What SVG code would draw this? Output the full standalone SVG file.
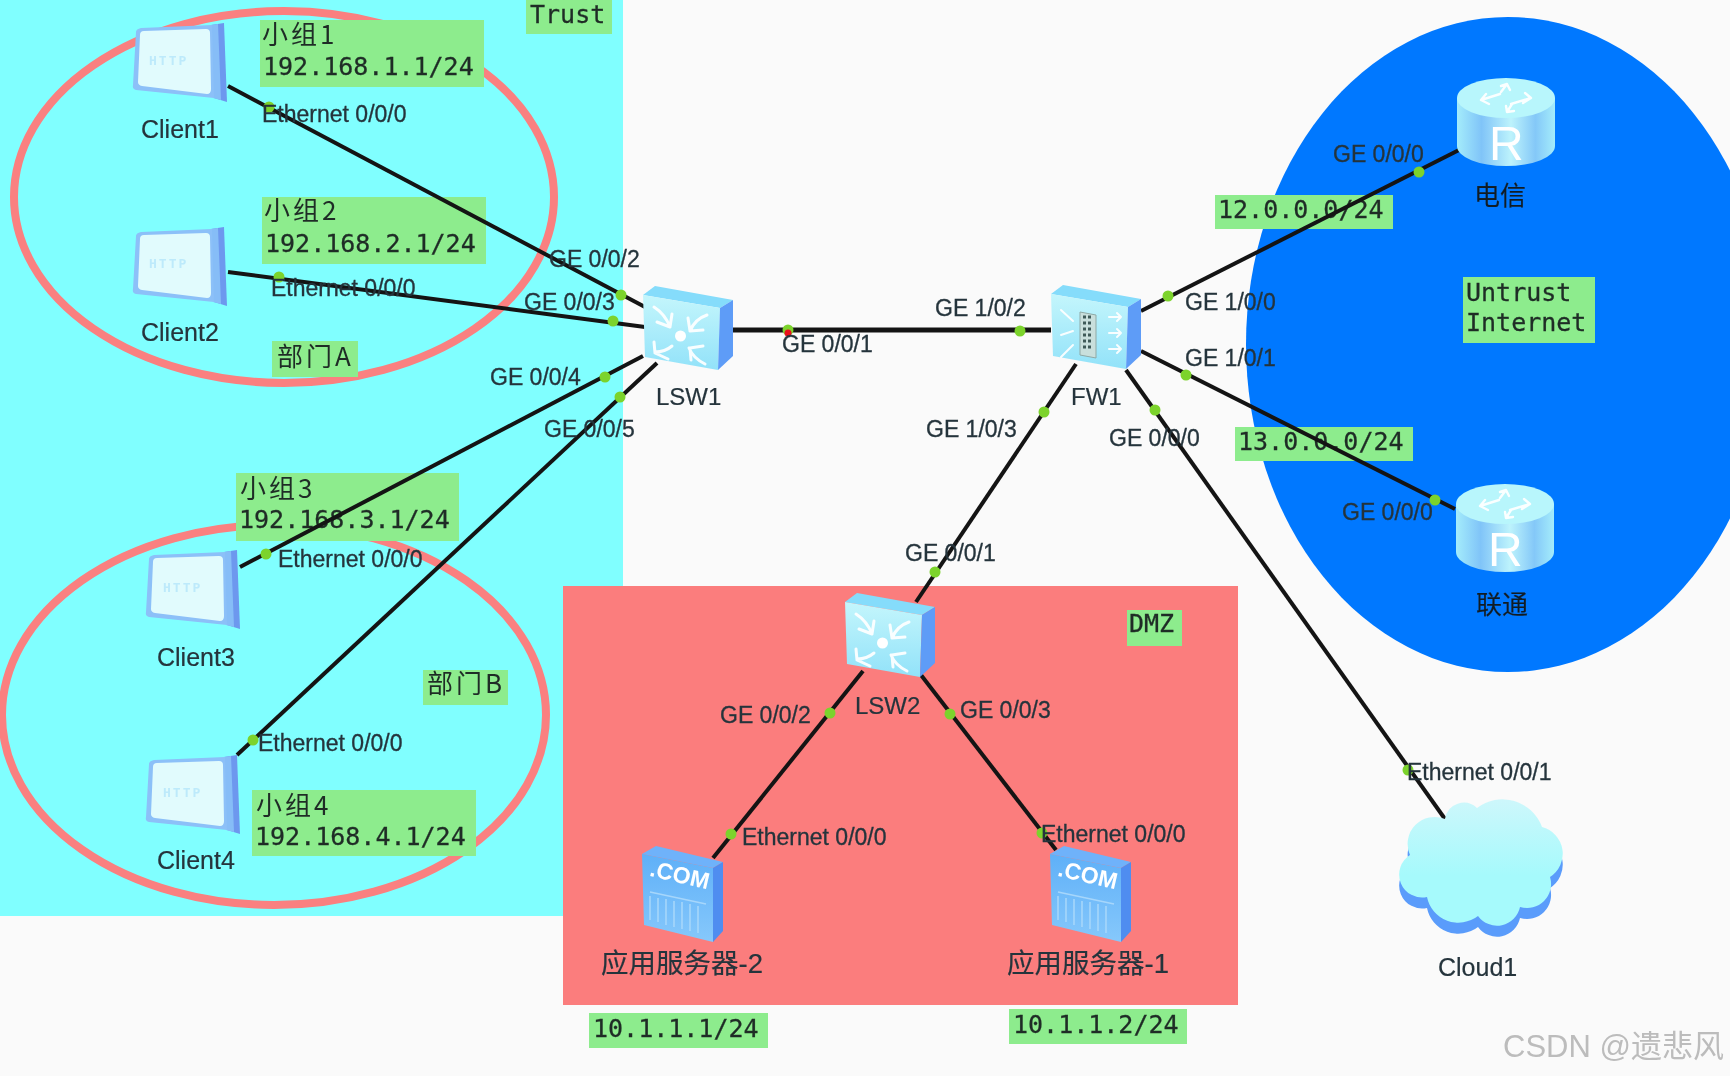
<svg xmlns="http://www.w3.org/2000/svg" width="1730" height="1076" viewBox="0 0 1730 1076">
<style>
.note{fill:#8dec8d}
.mono{font-family:"DejaVu Sans Mono","Noto Sans CJK SC",monospace;font-size:25px;fill:#1f2c26;stroke:#1f2c26;stroke-width:.3}
.cjk{font-family:"Noto Sans CJK SC","DejaVu Sans Mono",sans-serif;font-size:26px;letter-spacing:3px;fill:#1f2c26}
.port{font-family:"Liberation Sans",Arial,sans-serif;font-size:23px;fill:#25343c;stroke:#25343c;stroke-width:.3}
.name{font-family:"Liberation Sans","Noto Sans CJK SC",Arial,sans-serif;font-size:25px;fill:#25343c;stroke:#25343c;stroke-width:.2}
.ring{fill:none;stroke:#fa8080;stroke-width:8}
.link{stroke:#141414;stroke-width:4;fill:none}
.dot{fill:#7cd32c}
.arrow{fill:none;stroke:#fff;stroke-width:3;stroke-linecap:round;stroke-linejoin:round;opacity:.92}
.http{font-family:"DejaVu Sans Mono",monospace;font-weight:700;font-size:13px;letter-spacing:2px;fill:#bdeafb}
</style>
<defs>
<filter id="soft" filterUnits="userSpaceOnUse" x="0" y="0" width="1730" height="1076" color-interpolation-filters="sRGB"><feGaussianBlur stdDeviation="0.7"/></filter>
<linearGradient id="faceG" x1="0" y1="0" x2="0" y2="1"><stop offset="0" stop-color="#c4f6fc"/><stop offset="1" stop-color="#92e2f9"/></linearGradient>
<linearGradient id="rBody" x1="0" y1="0" x2="1" y2="0"><stop offset="0" stop-color="#a4ecfb"/><stop offset=".25" stop-color="#80c4f8"/><stop offset=".55" stop-color="#bdf3fc"/><stop offset=".8" stop-color="#84c8f8"/><stop offset="1" stop-color="#a4ecfb"/></linearGradient>
<linearGradient id="srvG" x1="0" y1="0" x2="0" y2="1"><stop offset="0" stop-color="#5fb0f8"/><stop offset="1" stop-color="#86c8fb"/></linearGradient>
<linearGradient id="cloudG" x1="0" y1="0" x2="0" y2="1"><stop offset="0" stop-color="#cdf7fb"/><stop offset=".6" stop-color="#a6fafc"/></linearGradient>
<g id="clientIcon">
<path d="M78 2L91 0L94 79L81 75Z" fill="#6d98ee"/>
<path d="M78 2L85 1L88 77L80 75Z" fill="#86bdf7"/>
<path d="M8 5L79 2L81 75L3 67Q-1 66 0 62L3 9Q3 6 8 5Z" fill="#8cc0f8"/>
<path d="M11 8L73 6Q77 6 77 10L78 66Q78 71 74 71L9 63Q5 62 5 59L7 12Q7 8 11 8Z" fill="#e1fbfd"/>
</g>
<g id="switchBox">
<path d="M12 0L90 14L77 22L0 9Z" fill="#85dcfb"/>
<path d="M0 9L77 22L75 84L2 71Z" fill="url(#faceG)"/>
<path d="M77 22L90 14L90 70L75 84Z" fill="#5e9cf7"/>
</g>
<g id="switchArrows">
<circle cx="37.5" cy="50" r="5.5" fill="#fff"/>
<path class="arrow" d="M11 21Q22 28 27 41M29 28L27 41L14 36"/>
<path class="arrow" d="M64 29Q52 33 47 45M45 32L47 45L60 44"/>
<path class="arrow" d="M29 60Q22 66 12 66M11 56L12 67L25 73"/>
<path class="arrow" d="M46 62Q50 72 62 78M48 74L47 62L60 60"/>
</g>
<g id="routerIcon">
<path d="M0 20V68A49 20 0 0 0 98 68V20Z" fill="url(#rBody)"/>
<ellipse cx="49" cy="20" rx="49" ry="20" fill="#b8f6fc"/>
<path class="arrow" style="stroke-width:2.4" d="M24 22L43 16M29 16L24 22L32 26M54 26L74 20M68 15L74 20L66 25M50 6L44 14M44 8L50 6L53 12M50 34L55 26M49 28L50 34L57 33"/>
</g>
<g id="serverIcon">
<path d="M14 0L81 16L71 22L0 8Z" fill="#6fb2fa"/>
<path d="M0 8L71 22L71 96L2 79Z" fill="url(#srvG)"/>
<path d="M71 22L81 16L81 85L71 96Z" fill="#4f8df0"/>
<path d="M8 46L64 58M8 50V74M16 52V76M24 53V79M32 55V81M40 56V83M48 58V85M56 60V87" stroke="#a6d6fb" stroke-width="1.6" fill="none"/>
</g>
</defs>
<rect width="1730" height="1076" fill="#fafafa"/>
<g filter="url(#soft)">
<g id="zones">
<rect x="0" y="0" width="623" height="916" fill="#80ffff"/>
<ellipse cx="1508" cy="344.5" rx="262" ry="327.5" fill="#0078ff"/>
<rect x="563" y="586" width="675" height="419" fill="#fb7d7d"/>
<ellipse class="ring" cx="284" cy="197" rx="270" ry="186"/>
<ellipse class="ring" cx="274" cy="715" rx="272" ry="190"/>
</g>
<g id="notes">
<rect class="note" x="526" y="0" width="86" height="34"/><text class="mono" x="530" y="23">Trust</text>
<rect class="note" x="260" y="20" width="224" height="67"/><text class="cjk" x="262" y="44">小组1</text><text class="mono" x="263" y="75">192.168.1.1/24</text>
<rect class="note" x="262" y="197" width="224" height="67"/><text class="cjk" x="264" y="220">小组2</text><text class="mono" x="265" y="252">192.168.2.1/24</text>
<rect class="note" x="272" y="341" width="86" height="36"/><text class="cjk" x="277" y="366">部门A</text>
<rect class="note" x="236" y="473" width="223" height="68"/><text class="cjk" x="240" y="498">小组3</text><text class="mono" x="239" y="528">192.168.3.1/24</text>
<rect class="note" x="423" y="670" width="85" height="35"/><text class="cjk" x="427" y="693">部门B</text>
<rect class="note" x="252" y="790" width="224" height="66"/><text class="cjk" x="256" y="815">小组4</text><text class="mono" x="255" y="845">192.168.4.1/24</text>
<rect class="note" x="1215" y="195" width="178" height="34"/><text class="mono" x="1218" y="218">12.0.0.0/24</text>
<rect class="note" x="1235" y="427" width="178" height="34"/><text class="mono" x="1238" y="450">13.0.0.0/24</text>
<rect class="note" x="1463" y="277" width="132" height="66"/><text class="mono" x="1466" y="301">Untrust</text><text class="mono" x="1466" y="331">Internet</text>
<rect class="note" x="1127" y="610" width="55" height="36"/><text class="mono" x="1129" y="632">DMZ</text>
<rect class="note" x="589" y="1013" width="179" height="35"/><text class="mono" x="593" y="1037">10.1.1.1/24</text>
<rect class="note" x="1009" y="1009" width="178" height="35"/><text class="mono" x="1013" y="1033">10.1.1.2/24</text>
</g>
<g id="connectors">
<path class="link" d="M228 86L645 307"/>
<path class="link" d="M228 272L645 327"/>
<path class="link" d="M240 567L643 356"/>
<path class="link" d="M237 755L657 363"/>
<path class="link" d="M733 330H1051" style="stroke-width:5"/>
<path class="link" d="M1141 311L1459 150"/>
<path class="link" d="M1141 351L1455 509"/>
<path class="link" d="M1076 364L916 602"/>
<path class="link" d="M1126 370L1445 819"/>
<path class="link" d="M863 671L713 858"/>
<path class="link" d="M921 675L1056 850"/>
<g id="ports">
<circle class="dot" cx="269" cy="107" r="5.5"/><circle class="dot" cx="279" cy="277" r="5.5"/>
<circle class="dot" cx="621" cy="295" r="5.5"/><circle class="dot" cx="613" cy="321" r="5.5"/>
<circle class="dot" cx="605" cy="377" r="5.5"/><circle class="dot" cx="620" cy="397" r="5.5"/>
<circle class="dot" cx="788" cy="330" r="5.5"/><circle cx="788" cy="333" r="3.5" fill="#e8101c"/>
<circle class="dot" cx="1020" cy="331" r="5.5"/><circle class="dot" cx="1168" cy="296" r="5.5"/>
<circle class="dot" cx="1186" cy="375" r="5.5"/><circle class="dot" cx="1155" cy="410" r="5.5"/>
<circle class="dot" cx="1419" cy="172" r="5.5"/><circle class="dot" cx="1435" cy="500" r="5.5"/>
<circle class="dot" cx="1044" cy="412" r="5.5"/><circle class="dot" cx="935" cy="572" r="5.5"/>
<circle class="dot" cx="266" cy="554" r="5.5"/><circle class="dot" cx="253" cy="740" r="5.5"/>
<circle class="dot" cx="830" cy="713" r="5.5"/><circle class="dot" cx="950" cy="714" r="5.5"/>
<circle class="dot" cx="731" cy="834" r="5.5"/><circle class="dot" cx="1042" cy="833" r="5.5"/>
<circle class="dot" cx="1408" cy="770" r="5.5"/>
</g>
</g>
<g id="Client1"><use href="#clientIcon" x="133" y="23"/><text class="http" x="149" y="65">HTTP</text><text class="name" x="141" y="138">Client1</text></g>
<g id="Client2"><use href="#clientIcon" x="133" y="227"/><text class="http" x="149" y="268">HTTP</text><text class="name" x="141" y="341">Client2</text></g>
<g id="Client3"><use href="#clientIcon" x="146" y="550"/><text class="http" x="163" y="592">HTTP</text><text class="name" x="157" y="666">Client3</text></g>
<g id="Client4"><use href="#clientIcon" x="146" y="755"/><text class="http" x="163" y="797">HTTP</text><text class="name" x="157" y="869">Client4</text></g>
<g id="LSW1"><use href="#switchBox" x="643" y="286"/><use href="#switchArrows" x="643" y="286"/><text class="name" style="font-size:24px" x="656" y="405">LSW1</text></g>
<g id="LSW2"><use href="#switchBox" x="845" y="593"/><use href="#switchArrows" x="845" y="593"/><text class="name" style="font-size:24px" x="855" y="714">LSW2</text></g>
<g id="FW1"><use href="#switchBox" x="1051" y="285"/>
<path class="arrow" d="M58 32H70M66 28L70 32L66 36M58 48H70M66 44L70 48L66 52M58 64H70M66 60L70 64L66 68M10 25L22 36M10 50L22 46M10 72L22 60" transform="translate(1051 285)" style="stroke-width:2"/>
<path d="M1080 312L1096 315V358L1080 355Z" fill="#c9dfdc" stroke="#8fa9a6"/>
<path d="M1083 317H1093M1083 323H1093M1083 329H1093M1083 335H1093M1083 341H1093M1083 347H1093" stroke="#3f5a58" stroke-width="3" stroke-dasharray="3 2"/>
<text class="name" style="font-size:24px" x="1071" y="405">FW1</text></g>
<g id="telecom"><use href="#routerIcon" x="1457" y="78"/><text x="1489" y="160" style="font-family:'Liberation Sans',sans-serif;font-size:48px;fill:#fff">R</text><text class="name" style="font-size:26px;fill:#0f1c26" x="1474" y="205">电信</text></g>
<g id="unicom"><use href="#routerIcon" x="1456" y="484"/><text x="1488" y="566" style="font-family:'Liberation Sans',sans-serif;font-size:48px;fill:#fff">R</text><text class="name" style="font-size:26px;fill:#0f1c26" x="1476" y="614">联通</text></g>
<g id="server2"><use href="#serverIcon" x="642" y="846"/><text x="649" y="882" transform="rotate(13 676 878)" style="font-family:'Liberation Sans',sans-serif;font-weight:700;font-size:23px;fill:#fff">.COM</text><text class="name" style="font-size:27.5px" x="601" y="973">应用服务器-2</text></g>
<g id="server1"><use href="#serverIcon" x="1050" y="846"/><text x="1057" y="882" transform="rotate(13 1084 878)" style="font-family:'Liberation Sans',sans-serif;font-weight:700;font-size:23px;fill:#fff">.COM</text><text class="name" style="font-size:27.5px" x="1007" y="973">应用服务器-1</text></g>
<g id="Cloud1">
<path transform="translate(0 11)" d="M1410 855A27 27 0 0 1 1445 819A19 19 0 0 1 1477 808A42 42 0 0 1 1542 827A27.6 27.6 0 0 1 1550 877A24 24 0 0 1 1520 907A23.5 23.5 0 0 1 1478 916A32 32 0 0 1 1427 897A23 23 0 0 1 1410 855Z" fill="#5a9cfb"/>
<path d="M1410 855A27 27 0 0 1 1445 819A19 19 0 0 1 1477 808A42 42 0 0 1 1542 827A27.6 27.6 0 0 1 1550 877A24 24 0 0 1 1520 907A23.5 23.5 0 0 1 1478 916A32 32 0 0 1 1427 897A23 23 0 0 1 1410 855Z" fill="url(#cloudG)"/>
<text class="name" x="1438" y="976">Cloud1</text></g>
<g id="portLabels">
<text class="port" x="262" y="122">Ethernet 0/0/0</text>
<text class="port" x="271" y="296">Ethernet 0/0/0</text>
<text class="port" x="278" y="567">Ethernet 0/0/0</text>
<text class="port" x="258" y="751">Ethernet 0/0/0</text>
<text class="port" x="549" y="267">GE 0/0/2</text>
<text class="port" x="524" y="310">GE 0/0/3</text>
<text class="port" x="490" y="385">GE 0/0/4</text>
<text class="port" x="544" y="437">GE 0/0/5</text>
<text class="port" x="782" y="352">GE 0/0/1</text>
<text class="port" x="935" y="316">GE 1/0/2</text>
<text class="port" x="926" y="437">GE 1/0/3</text>
<text class="port" x="1109" y="446">GE 0/0/0</text>
<text class="port" x="1185" y="310">GE 1/0/0</text>
<text class="port" x="1185" y="366">GE 1/0/1</text>
<text class="port" x="1333" y="162">GE 0/0/0</text>
<text class="port" x="1342" y="520">GE 0/0/0</text>
<text class="port" x="905" y="561">GE 0/0/1</text>
<text class="port" x="720" y="723">GE 0/0/2</text>
<text class="port" x="960" y="718">GE 0/0/3</text>
<text class="port" x="742" y="845">Ethernet 0/0/0</text>
<text class="port" x="1041" y="842">Ethernet 0/0/0</text>
<text class="port" x="1407" y="780">Ethernet 0/0/1</text>
</g>
<text x="1503" y="1057" style="font-family:'Liberation Sans','Noto Sans CJK SC',sans-serif;font-size:31px;fill:#bcbcbc">CSDN @遗悲风</text>
</g>
</svg>
